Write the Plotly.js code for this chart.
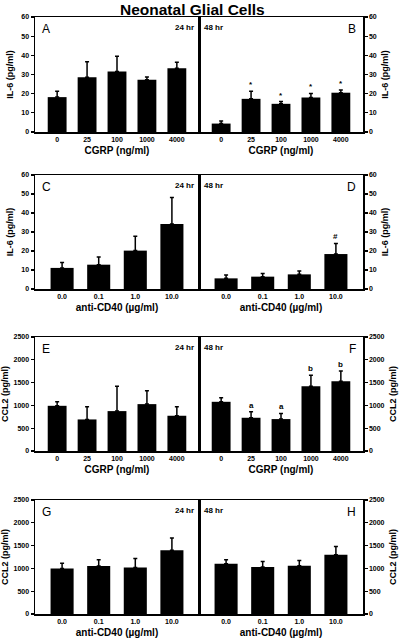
<!DOCTYPE html>
<html><head><meta charset="utf-8">
<script src="https://cdn.plot.ly/plotly-3.0.1.min.js"></script>
<style>html,body{margin:0;padding:0;background:#fff}#chart{width:400px;height:643px}</style>
</head><body><div id="chart"></div>
<script>
// ---- data ----
const cgrpDoses = ['0', '25', '100', '1000', '4000'];
const cd40Doses = ['0.0', '0.1', '1.0', '10.0'];

const il6Cgrp24 = [18.2, 28.5, 31.5, 27.3, 33.2];
const il6Cgrp24Err = [3.1, 8.2, 8.0, 1.4, 3.2];
const il6Cgrp48 = [4.4, 17.3, 14.7, 18.0, 20.5];
const il6Cgrp48Err = [1.4, 3.9, 1.2, 2.1, 1.4];
const il6Cgrp48Sig = ['', '*', '*', '*', '*'];

const il6Cd40_24 = [11.1, 12.8, 20.2, 34.2];
const il6Cd40_24Err = [2.9, 4.0, 7.5, 13.9];
const il6Cd40_48 = [5.6, 6.5, 7.7, 18.4];
const il6Cd40_48Err = [1.8, 1.7, 1.8, 5.6];
const il6Cd40_48Sig = ['', '', '', '#'];

const ccl2Cgrp24 = [991, 692, 875, 1028, 773];
const ccl2Cgrp24Err = [88, 277, 546, 291, 196];
const ccl2Cgrp48 = [1079, 729, 700, 1421, 1531];
const ccl2Cgrp48Err = [87, 131, 124, 241, 226];
const ccl2Cgrp48Sig = ['', 'a', 'a', 'b', 'b'];

const ccl2Cd40_24 = [999, 1050, 1020, 1399];
const ccl2Cd40_24Err = [116, 138, 197, 270];
const ccl2Cd40_48 = [1101, 1028, 1057, 1297];
const ccl2Cd40_48Err = [87, 124, 116, 183];

const il6Title = 'IL-6 (pg/ml)';
const ccl2Title = 'CCL2 (pg/ml)';
const cgrpTitle = 'CGRP (ng/ml)';
const cd40Title = 'anti-CD40 (\u00b5g/ml)';

// ---- panels ----
const panels = [
  {x: cgrpDoses, y: il6Cgrp24, e: il6Cgrp24Err, sig: null, row: 0, side: 'left', letter: 'A', time: '24 hr', yt: il6Title, xt: cgrpTitle, ymax: 60, dt: 10},
  {x: cgrpDoses, y: il6Cgrp48, e: il6Cgrp48Err, sig: il6Cgrp48Sig, row: 0, side: 'right', letter: 'B', time: '48 hr', yt: il6Title, xt: cgrpTitle, ymax: 60, dt: 10},
  {x: cd40Doses, y: il6Cd40_24, e: il6Cd40_24Err, sig: null, row: 1, side: 'left', letter: 'C', time: '24 hr', yt: il6Title, xt: cd40Title, ymax: 60, dt: 10},
  {x: cd40Doses, y: il6Cd40_48, e: il6Cd40_48Err, sig: il6Cd40_48Sig, row: 1, side: 'right', letter: 'D', time: '48 hr', yt: il6Title, xt: cd40Title, ymax: 60, dt: 10},
  {x: cgrpDoses, y: ccl2Cgrp24, e: ccl2Cgrp24Err, sig: null, row: 2, side: 'left', letter: 'E', time: '24 hr', yt: ccl2Title, xt: cgrpTitle, ymax: 2500, dt: 500},
  {x: cgrpDoses, y: ccl2Cgrp48, e: ccl2Cgrp48Err, sig: ccl2Cgrp48Sig, row: 2, side: 'right', letter: 'F', time: '48 hr', yt: ccl2Title, xt: cgrpTitle, ymax: 2500, dt: 500},
  {x: cd40Doses, y: ccl2Cd40_24, e: ccl2Cd40_24Err, sig: null, row: 3, side: 'left', letter: 'G', time: '24 hr', yt: ccl2Title, xt: cd40Title, ymax: 2500, dt: 500},
  {x: cd40Doses, y: ccl2Cd40_48, e: ccl2Cd40_48Err, sig: null, row: 3, side: 'right', letter: 'H', time: '48 hr', yt: ccl2Title, xt: cd40Title, ymax: 2500, dt: 500}
];

const W = 400, H = 643;
const rowPx = [[17, 132], [175, 289], [337, 451], [500, 614]];
const colPx = {left: [35, 199], right: [199, 363]};
const FF = 'Liberation Sans, Arial, sans-serif';
const B = s => '<b>' + s + '</b>';

const data = [];
const layout = {
  width: W, height: H, margin: {l: 0, r: 0, t: 0, b: 0},
  paper_bgcolor: '#fff', plot_bgcolor: '#fff', showlegend: false,
  bargap: 0.37, font: {family: FF, color: '#000'},
  annotations: [{
    text: B('Neonatal Glial Cells'), x: 192 / W, y: 1, xref: 'paper', yref: 'paper',
    showarrow: false, xanchor: 'center', yanchor: 'top', borderpad: 0,
    font: {family: FF, size: 15.5, color: '#000'}
  }]
};

panels.forEach((p, i) => {
  const k = i + 1;
  const xa = 'x' + (k === 1 ? '' : k), ya = 'y' + (k === 1 ? '' : k);
  const xk = 'xaxis' + (k === 1 ? '' : k), yk = 'yaxis' + (k === 1 ? '' : k);
  const n = p.x.length;
  data.push({
    type: 'bar', x: p.x, y: p.y, xaxis: xa, yaxis: ya,
    marker: {color: '#000', line: {width: 0}},
    error_y: {type: 'data', array: p.e, arrayminus: p.e.map(() => 0), symmetric: false,
              color: '#000', thickness: 1.5, width: 2},
    hoverinfo: 'none'
  });
  const cx = colPx[p.side], ry = rowPx[p.row];
  layout[xk] = {
    domain: [cx[0] / W, cx[1] / W], anchor: ya, type: 'category',
    range: [-0.74, n - 1 + 0.74], showline: true, mirror: true, linecolor: '#000', linewidth: 1.5,
    ticks: '', showgrid: false, zeroline: false, fixedrange: true,
    tickfont: {family: FF, size: 7, weight: 'bold', color: '#000'},
    title: {text: B(p.xt), standoff: 5, font: {family: FF, size: 10, color: '#000'}}
  };
  layout[yk] = {
    domain: [1 - ry[1] / H, 1 - ry[0] / H], anchor: xa, side: p.side,
    range: [0, p.ymax], dtick: p.dt, showline: true, mirror: true, linecolor: '#000', linewidth: 1.5,
    ticks: 'outside', ticklen: 3, tickwidth: 1.2, tickcolor: '#000',
    showgrid: false, zeroline: false, fixedrange: true,
    tickfont: {family: FF, size: 7, weight: 'bold', color: '#000'},
    title: {text: B(p.yt), standoff: 6, font: {family: FF, size: 9, color: '#000'}}
  };
  // panel letter
  layout.annotations.push({
    text: p.letter, xref: xa + ' domain', yref: ya + ' domain',
    x: p.side === 'left' ? 0.03 : 0.97, y: 0.97,
    xanchor: p.side === 'left' ? 'left' : 'right', yanchor: 'top', showarrow: false,
    font: {family: FF, size: 12, color: '#000'}
  });
  // time label
  layout.annotations.push({
    text: B(p.time), xref: xa + ' domain', yref: ya + ' domain',
    x: p.side === 'left' ? 0.98 : 0.02, y: 0.965,
    xanchor: p.side === 'left' ? 'right' : 'left', yanchor: 'top', showarrow: false,
    font: {family: FF, size: 8, color: '#000'}
  });
  if (p.sig) {
    p.sig.forEach((s, j) => {
      if (!s) return;
      layout.annotations.push({
        text: B(s), xref: xa, yref: ya, x: j, y: p.y[j] + p.e[j],
        xanchor: 'center', yanchor: 'bottom', showarrow: false, yshift: 0,
        font: {family: FF, size: 8, color: '#000'}
      });
    });
  }
});

Plotly.newPlot('chart', data, layout, {staticPlot: true, displayModeBar: false});
</script>
</body></html>
